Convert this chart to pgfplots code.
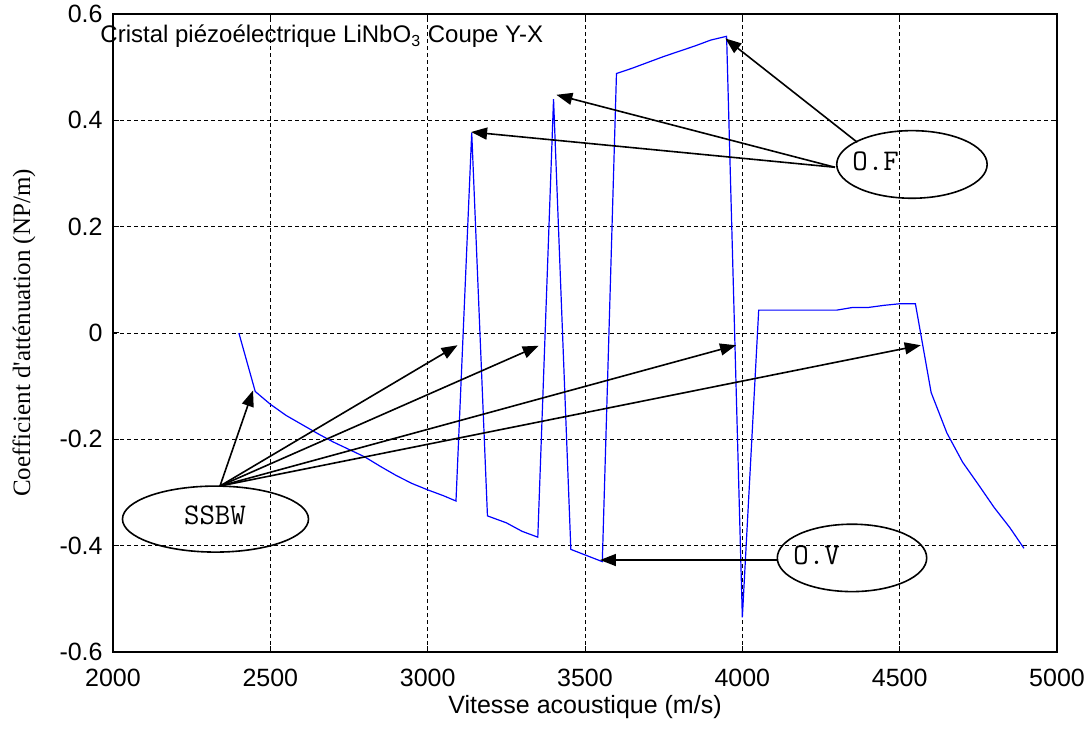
\documentclass[border=0pt]{standalone}
\usepackage{fontspec}
\setmainfont{Liberation Sans}
\newfontfamily\tnrfont{Liberation Serif}
\usepackage{pgfplots}
\pgfplotsset{compat=1.18}
\usetikzlibrary{arrows.meta}
\begin{document}
\begin{tikzpicture}
\begin{axis}[
  scale only axis,
  width=472pt, height=319pt,
  xmin=2000, xmax=5000, ymin=-0.6, ymax=0.6,
  xtick={2000,2500,3000,3500,4000,4500,5000},
  xticklabels={2000,2500,3000,3500,4000,4500,5000},
  ytick={-0.6,-0.4,-0.2,0,0.2,0.4,0.6},
  yticklabels={-0.6,-0.4,-0.2,0,0.2,0.4,0.6},
  tick align=inside,
  major tick length=3pt,
  tick style={black, line width=0.5pt},
  axis line style={black, line width=0.6pt},
  grid=major,
  major grid style={black, dash pattern=on 2pt off 1.5pt, line width=0.4pt},
  ticklabel style={font=\fontsize{12.5}{15}\selectfont},
  xticklabel style={anchor=base, yshift=-17pt, inner sep=0pt},
  yticklabel style={anchor=east, xshift=-5pt, inner sep=0pt},
  every axis x label/.style={at={(axis description cs:0.5,0)}, anchor=base, yshift=-30.5pt, font=\fontsize{12.5}{15}\selectfont},
  every axis y label/.style={at={(axis description cs:0,0.5)}, rotate=90, anchor=center, yshift=44.5pt, font=\tnrfont\fontsize{12.5}{15}\selectfont},
  xlabel={Vitesse acoustique (m/s)},
  ylabel={Coefficient d'atténuation (NP/m)},
  clip=false,
]
\addplot[blue, line width=0.6pt] coordinates {
(2400,0.000) (2452,-0.110) (2500,-0.134) (2550,-0.155) (2600,-0.172)
(2650,-0.189) (2700,-0.205) (2750,-0.219) (2800,-0.233) (2850,-0.251)
(2900,-0.268) (2950,-0.283) (3000,-0.295) (3050,-0.306) (3090,-0.316)
(3140,0.377) (3190,-0.344) (3250,-0.357) (3300,-0.373) (3350,-0.384)
(3400,0.440) (3455,-0.407) (3555,-0.430)
(3600,0.488) (3650,0.498) (3700,0.509) (3750,0.520) (3800,0.530)
(3850,0.540) (3900,0.551) (3950,0.558)
(4000,-0.535)
(4052,0.043) (4100,0.043) (4200,0.043) (4300,0.043) (4350,0.048)
(4400,0.048) (4450,0.052) (4500,0.055) (4550,0.055)
(4600,-0.112) (4650,-0.188) (4700,-0.243) (4750,-0.285) (4800,-0.328)
(4850,-0.366) (4895,-0.405)
};
% title
\node[anchor=base west, inner sep=0pt, font=\fontsize{12}{14}\selectfont] at (axis cs:1959,0.5455) {Cristal piézoélectrique LiNbO\textsubscript{3} Coupe Y-X};
% ellipses
\draw[line width=0.8pt] (axis cs:2325.7,-0.350) ellipse [x radius=46.5pt, y radius=16.5pt];
\draw[line width=0.8pt] (axis cs:4539,0.317) ellipse [x radius=37.6pt, y radius=16.9pt];
\draw[line width=0.8pt] (axis cs:4348.5,-0.423) ellipse [x radius=37.35pt, y radius=16.85pt];
\node[font=\ttfamily\fontsize{15}{17}\selectfont, inner sep=0pt] at (axis cs:2324,-0.342) {SSBW};
\node[anchor=west, font=\ttfamily\fontsize{15}{17}\selectfont, inner sep=0pt] at (axis cs:4348.5,0.322) {O.F};
\node[anchor=west, font=\ttfamily\fontsize{15}{17}\selectfont, inner sep=0pt] at (axis cs:4161,-0.4175) {O.V};
% arrows
\begin{scope}[line width=0.8pt, -{Triangle[length=8pt,width=6pt]}]
\draw (axis cs:2340,-0.2878) -- (axis cs:2445,-0.108);
\draw (axis cs:2340,-0.2878) -- (axis cs:3095,-0.023);
\draw (axis cs:2340,-0.2878) -- (axis cs:3353,-0.024);
\draw (axis cs:2340,-0.2878) -- (axis cs:3980,-0.023);
\draw (axis cs:2340,-0.2878) -- (axis cs:4567,-0.023);
\draw (axis cs:4294.5,0.3117) -- (axis cs:3138,0.378);
\draw (axis cs:4294.5,0.3117) -- (axis cs:3409,0.448);
\draw (axis cs:4365.3,0.3587) -- (axis cs:3946,0.554);
\draw (axis cs:4110,-0.427) -- (axis cs:3547.6,-0.427);
\end{scope}
\end{axis}
\pgfresetboundingbox
\path ([xshift=-56.5pt,yshift=-38.5pt]current axis.south west) rectangle ([xshift=15.5pt,yshift=7pt]current axis.north east);
\end{tikzpicture}
\end{document}
